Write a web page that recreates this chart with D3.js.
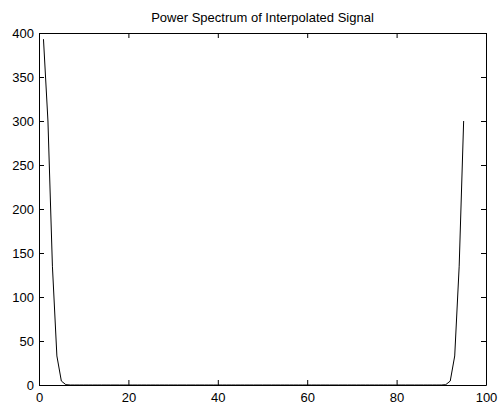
<!DOCTYPE html>
<html>
<head>
<meta charset="utf-8">
<script src="https://cdn.jsdelivr.net/npm/d3@7"></script>
<style>
  body { margin: 0; background: #fff; }
  text { font-family: "Liberation Sans", Arial, sans-serif; font-size: 13px; fill: #000; }
</style>
</head>
<body>
<div id="chart"></div>
<script>
// power spectrum, one value per sample index 1..95
var power = [
  393, 300, 135, 33, 4.5, 0.4, 0, 0, 0, 0,
  0, 0, 0, 0, 0, 0, 0, 0, 0, 0,
  0, 0, 0, 0, 0, 0, 0, 0, 0, 0,
  0, 0, 0, 0, 0, 0, 0, 0, 0, 0,
  0, 0, 0, 0, 0, 0, 0, 0, 0, 0,
  0, 0, 0, 0, 0, 0, 0, 0, 0, 0,
  0, 0, 0, 0, 0, 0, 0, 0, 0, 0,
  0, 0, 0, 0, 0, 0, 0, 0, 0, 0,
  0, 0, 0, 0, 0, 0, 0, 0, 0, 0,
  0.4, 4.5, 33, 135, 300
];
var xTicks = [0, 20, 40, 60, 80, 100];
var yTicks = [0, 50, 100, 150, 200, 250, 300, 350, 400];
var title = "Power Spectrum of Interpolated Signal";

var width = 498, height = 404;
var margin = {top: 33, right: 12, bottom: 19, left: 39};
var w = width - margin.left - margin.right;
var h = height - margin.top - margin.bottom;

var svg = d3.select("#chart").append("svg")
  .attr("width", width).attr("height", height);

var g = svg.append("g")
  .attr("transform", "translate(" + margin.left + "," + margin.top + ")");

var x = d3.scaleLinear().domain([0, 100]).range([0, w]);
var y = d3.scaleLinear().domain([0, 400]).range([h, 0]);

// the curve
var line = d3.line()
  .x(function(d, i) { return x(i + 1); })
  .y(function(d) { return y(d); });

g.append("path").datum(power)
  .attr("d", line)
  .attr("fill", "none")
  .attr("stroke", "#000")
  .attr("stroke-width", 1);

// axes, matlab style ticks pointing inward on all four sides
var tk = 5;
g.append("g").attr("transform", "translate(0," + h + ")")
  .call(d3.axisBottom(x).tickValues(xTicks).tickSizeInner(-tk).tickSizeOuter(0).tickPadding(8));
g.append("g")
  .call(d3.axisLeft(y).tickValues(yTicks).tickSizeInner(-tk).tickSizeOuter(0).tickPadding(5));
g.append("g")
  .call(d3.axisTop(x).tickValues(xTicks).tickSizeInner(-tk).tickSizeOuter(0).tickFormat(""));
g.append("g").attr("transform", "translate(" + w + ",0)")
  .call(d3.axisRight(y).tickValues(yTicks).tickSizeInner(-tk).tickSizeOuter(0).tickFormat(""));

g.selectAll(".domain").attr("stroke", "#000").attr("stroke-width", 1);
g.selectAll(".tick line").attr("stroke", "#000");
g.selectAll(".tick text").style("font-size", "13px").style("font-family", "Liberation Sans, Arial, sans-serif");

g.append("text")
  .attr("x", w / 2).attr("y", -11)
  .attr("text-anchor", "middle")
  .text(title);
</script>
</body>
</html>
